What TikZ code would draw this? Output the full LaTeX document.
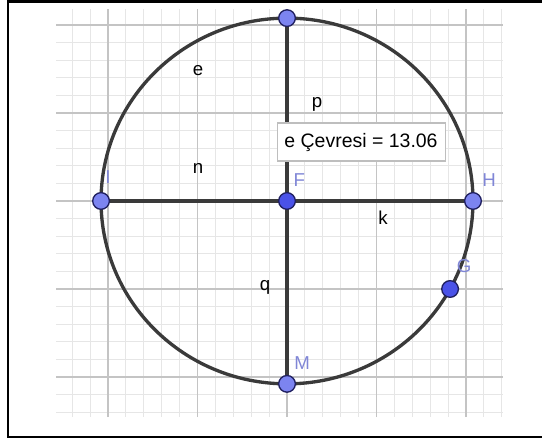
\documentclass[tikz,border=0pt]{standalone}
\usepackage{fontspec}
\setmainfont{Liberation Sans}
\usepackage{xcolor}
\definecolor{gridmajor}{RGB}{196,196,196}
\definecolor{gridminor}{RGB}{230,230,230}
\definecolor{inkdark}{RGB}{58,58,58}
\definecolor{ptlight}{RGB}{124,132,240}
\definecolor{ptdark}{RGB}{74,82,232}
\definecolor{ptedge}{RGB}{32,32,96}
\definecolor{lblblue}{RGB}{128,134,214}
\definecolor{boxedge}{RGB}{190,190,190}

\begin{document}
\begin{tikzpicture}[x=67.125pt,y=66pt,
  pt/.style={circle,draw=ptedge,line width=1pt,inner sep=0pt,minimum size=12.5pt},
  lbl/.style={text=black,font=\fontsize{14}{16}\selectfont},
  ptlbl/.style={text=lblblue,font=\fontsize{14}{16}\selectfont},
  seg/.style={inkdark,line width=2.5pt}]

  \useasboundingbox (-3.207,-2.727) rectangle (2.849,2.284);

  % ── FRAME ──────────────────────────────────────────────────────────────────
  \draw[black,line width=1.9pt]
    (2.849,2.267) -- (-3.117,2.267) -- (-3.117,-2.682) -- (2.849,-2.682);

  % ── GRID ───────────────────────────────────────────────────────────────────
  \draw[gridminor,line width=0.7pt,step=0.2] (-2.581,-2.455) grid (2.413,2.182);
  \draw[gridmajor,line width=1pt,step=1]     (-2.581,-2.455) grid (2.413,2.182);

  % ── POINTS (positions) ─────────────────────────────────────────────────────
  \coordinate (F) at (0,0);
  \coordinate (T) at (0,2.078);
  \coordinate (M) at (0,-2.078);
  \coordinate (I) at (-2.078,0);
  \coordinate (H) at (2.078,0);
  \coordinate (G) at (1.822,-1);

  % ── CIRCLE AND SEGMENTS ────────────────────────────────────────────────────
  \draw[seg] (F) circle (2.078);
  \draw[seg] (I) -- (F);
  \draw[seg] (F) -- (H);
  \draw[seg] (T) -- (F);
  \draw[seg] (F) -- (M);

  % ── PERIMETER BOX ──────────────────────────────────────────────────────────
  \node[draw=boxedge,fill=white,line width=0.8pt,inner sep=0pt,
        minimum width=126pt,minimum height=28.5pt,
        font=\fontsize{14.6}{16}\selectfont]
    (perim) at (0.827,0.670) {e Çevresi = 13.06};

  % ── OBJECT LABELS ──────────────────────────────────────────────────────────
  \node[lbl] (lble) at (-0.994,1.477) {e};
  \node[lbl] (lbln) at (-0.994,0.375) {n};
  \node[lbl] (lblp) at (0.335,1.100)  {p};
  \node[lbl] (lblk) at (1.073,-0.193) {k};
  \node[lbl] (lblq) at (-0.246,-0.977) {q};

  % point labels
  \node[ptlbl] (lblF) at (0.137,0.239)  {F};
  \node[ptlbl] (lblH) at (2.257,0.239)  {H};
  \node[ptlbl] (lblI) at (-2.000,0.270) {I};
  \node[ptlbl] (lblM) at (0.168,-1.840) {M};
  \node[ptlbl] (lblG) at (1.978,-0.739) {G};

  % ── POINTS (dots) ──────────────────────────────────────────────────────────
  \node[pt,fill=ptlight] (ptT) at (T) {};
  \node[pt,fill=ptlight] (ptI) at (I) {};
  \node[pt,fill=ptlight] (ptH) at (H) {};
  \node[pt,fill=ptlight] (ptM) at (M) {};
  \node[pt,fill=ptdark]  (ptF) at (F) {};
  \node[pt,fill=ptdark]  (ptG) at (G) {};

\end{tikzpicture}
\end{document}
